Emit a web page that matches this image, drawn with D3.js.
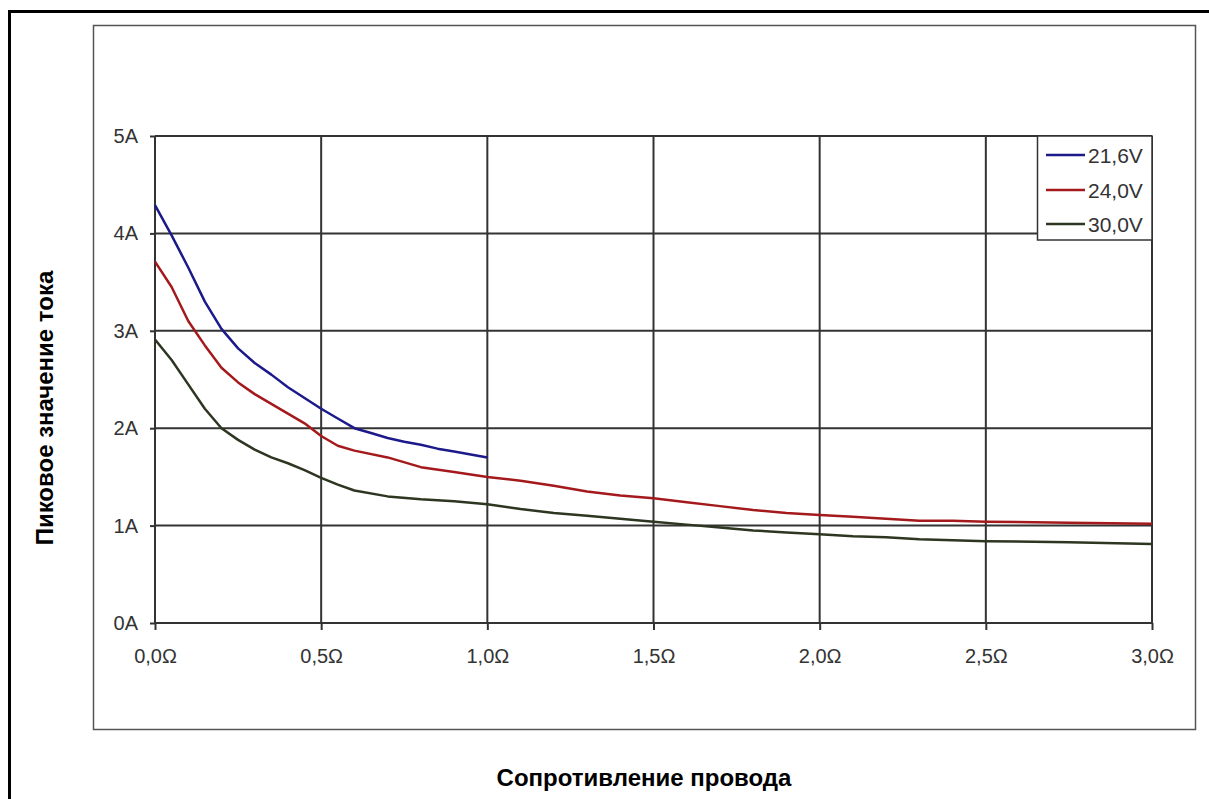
<!DOCTYPE html>
<html>
<head>
<meta charset="utf-8">
<script src="https://cdn.jsdelivr.net/npm/d3@7"></script>
<style>
  body { margin: 0; background: #fff; }
  svg { display: block; font-family: "Liberation Sans", Arial, sans-serif; }
</style>
</head>
<body>
<script>
const seriesNames = ["21,6V", "24,0V", "30,0V"];
const seriesColors = ["#1c1a8a", "#a41a1c", "#2c3620"];

const r216 = [0, 0.05, 0.1, 0.15, 0.2, 0.25, 0.3, 0.35, 0.4, 0.45, 0.5, 0.55, 0.6, 0.65, 0.7, 0.75, 0.8, 0.85, 0.9, 0.95, 1.0];
const i216 = [4.29, 3.98, 3.65, 3.3, 3.02, 2.82, 2.67, 2.55, 2.42, 2.31, 2.2, 2.1, 2.0, 1.95, 1.9, 1.86, 1.83, 1.79, 1.76, 1.73, 1.70];

const r240 = [0, 0.05, 0.1, 0.15, 0.2, 0.25, 0.3, 0.35, 0.4, 0.45, 0.5, 0.55, 0.6, 0.7, 0.8, 0.9, 1.0, 1.1, 1.2, 1.3, 1.4, 1.5, 1.6, 1.7, 1.8, 1.9, 2.0, 2.1, 2.2, 2.3, 2.4, 2.5, 2.75, 3.0];
const i240 = [3.71, 3.45, 3.1, 2.85, 2.62, 2.47, 2.35, 2.25, 2.15, 2.05, 1.92, 1.82, 1.77, 1.70, 1.60, 1.55, 1.50, 1.46, 1.41, 1.35, 1.31, 1.28, 1.24, 1.20, 1.16, 1.13, 1.11, 1.09, 1.07, 1.05, 1.05, 1.04, 1.03, 1.02];

const r300 = [0, 0.05, 0.1, 0.15, 0.2, 0.25, 0.3, 0.35, 0.4, 0.45, 0.5, 0.55, 0.6, 0.7, 0.8, 0.9, 1.0, 1.1, 1.2, 1.3, 1.4, 1.5, 1.6, 1.7, 1.8, 1.9, 2.0, 2.1, 2.2, 2.3, 2.4, 2.5, 2.75, 3.0];
const i300 = [2.91, 2.7, 2.45, 2.2, 2.0, 1.88, 1.78, 1.70, 1.64, 1.57, 1.49, 1.42, 1.36, 1.30, 1.27, 1.25, 1.22, 1.17, 1.13, 1.10, 1.07, 1.04, 1.01, 0.98, 0.95, 0.93, 0.91, 0.89, 0.88, 0.86, 0.85, 0.84, 0.83, 0.81];

const xTicks = [0, 0.5, 1.0, 1.5, 2.0, 2.5, 3.0];
const yTicks = [0, 1, 2, 3, 4, 5];

const xTitle = "Сопротивление провода";
const yTitle = "Пиковое значение тока";

const w = 1209;
const h = 799;

const series = [
    { name: seriesNames[0], color: seriesColors[0], pts: r216.map((r, i) => [r, i216[i]]) },
    { name: seriesNames[1], color: seriesColors[1], pts: r240.map((r, i) => [r, i240[i]]) },
    { name: seriesNames[2], color: seriesColors[2], pts: r300.map((r, i) => [r, i300[i]]) }
];

const xScale = d3.scaleLinear().domain([0, 3]).range([155, 1152]);
const yScale = d3.scaleLinear().domain([0, 5]).range([623, 136]);

const svg = d3.select('body')
    .append("svg")
    .attr("width", w)
    .attr("height", h);

// outer border (runs off the right and bottom edges)
svg.append("rect")
    .attr("x", 9.5).attr("y", 11.5)
    .attr("width", 1230).attr("height", 820)
    .attr("fill", "none").attr("stroke", "#000").attr("stroke-width", 3);

// chart frame
svg.append("rect")
    .attr("x", 93.5).attr("y", 25.5)
    .attr("width", 1102).attr("height", 704)
    .attr("fill", "#fff").attr("stroke", "#555").attr("stroke-width", 1.5);

const grid = svg.append("g").attr("stroke", "#333").attr("stroke-width", 2);
grid.selectAll("line.h")
    .data(yTicks)
    .enter().append("line")
    .attr("class", "h")
    .attr("x1", xScale(0)).attr("x2", xScale(3))
    .attr("y1", d => yScale(d)).attr("y2", d => yScale(d));
grid.selectAll("line.v")
    .data(xTicks)
    .enter().append("line")
    .attr("class", "v")
    .attr("y1", yScale(0)).attr("y2", yScale(5))
    .attr("x1", d => xScale(d)).attr("x2", d => xScale(d));

const fmtX = d => d3.format(".1f")(d).replace(".", ",") + "Ω";
const fmtY = d => d + "A";

const xAxis = d3.axisBottom(xScale).tickValues(xTicks).tickFormat(fmtX)
    .tickSizeInner(7).tickSizeOuter(0).tickPadding(33);
const yAxis = d3.axisLeft(yScale).tickValues(yTicks).tickFormat(fmtY)
    .tickSizeInner(5).tickSizeOuter(0).tickPadding(12);

const gx = svg.append("g")
    .attr("transform", "translate(0," + yScale(0) + ")")
    .call(xAxis);
const gy = svg.append("g")
    .attr("transform", "translate(" + xScale(0) + ",0)")
    .call(yAxis);

[gx, gy].forEach(g => {
    g.select(".domain").remove();
    g.selectAll(".tick line").attr("stroke", "#333").attr("stroke-width", 2);
    g.selectAll(".tick text")
        .attr("fill", "#333")
        .style("font-size", "20px")
        .style("font-family", "Liberation Sans, Arial, sans-serif");
});
gx.selectAll(".tick text").attr("dy", "0");

const line = d3.line()
    .x(d => xScale(d[0]))
    .y(d => yScale(d[1]));

svg.selectAll("path.series")
    .data(series)
    .enter().append("path")
    .attr("class", "series")
    .attr("d", d => line(d.pts))
    .attr("fill", "none")
    .attr("stroke", d => d.color)
    .attr("stroke-width", 2.5)
    .attr("stroke-linejoin", "round");

// legend
const legend = svg.append("g");
legend.append("rect")
    .attr("x", 1037.5).attr("y", 136)
    .attr("width", 114.5).attr("height", 104)
    .attr("fill", "#fff").attr("stroke", "#333").attr("stroke-width", 1.5);

const rowY = [155, 190, 224];
const items = legend.selectAll("g.item")
    .data(series)
    .enter().append("g")
    .attr("transform", (d, i) => "translate(0," + rowY[i] + ")");
items.append("line")
    .attr("x1", 1046).attr("x2", 1085)
    .attr("stroke", d => d.color).attr("stroke-width", 2.5);
items.append("text")
    .attr("x", 1088).attr("dy", "0.36em")
    .attr("fill", "#333")
    .style("font-size", "21px")
    .text(d => d.name);

// axis titles
svg.append("text")
    .attr("x", 644).attr("y", 786)
    .attr("text-anchor", "middle")
    .style("font-size", "24px").style("font-weight", "bold")
    .text(xTitle);

svg.append("text")
    .attr("transform", "translate(53,408) rotate(-90)")
    .attr("text-anchor", "middle")
    .style("font-size", "24px").style("font-weight", "bold")
    .text(yTitle);
</script>
</body>
</html>
